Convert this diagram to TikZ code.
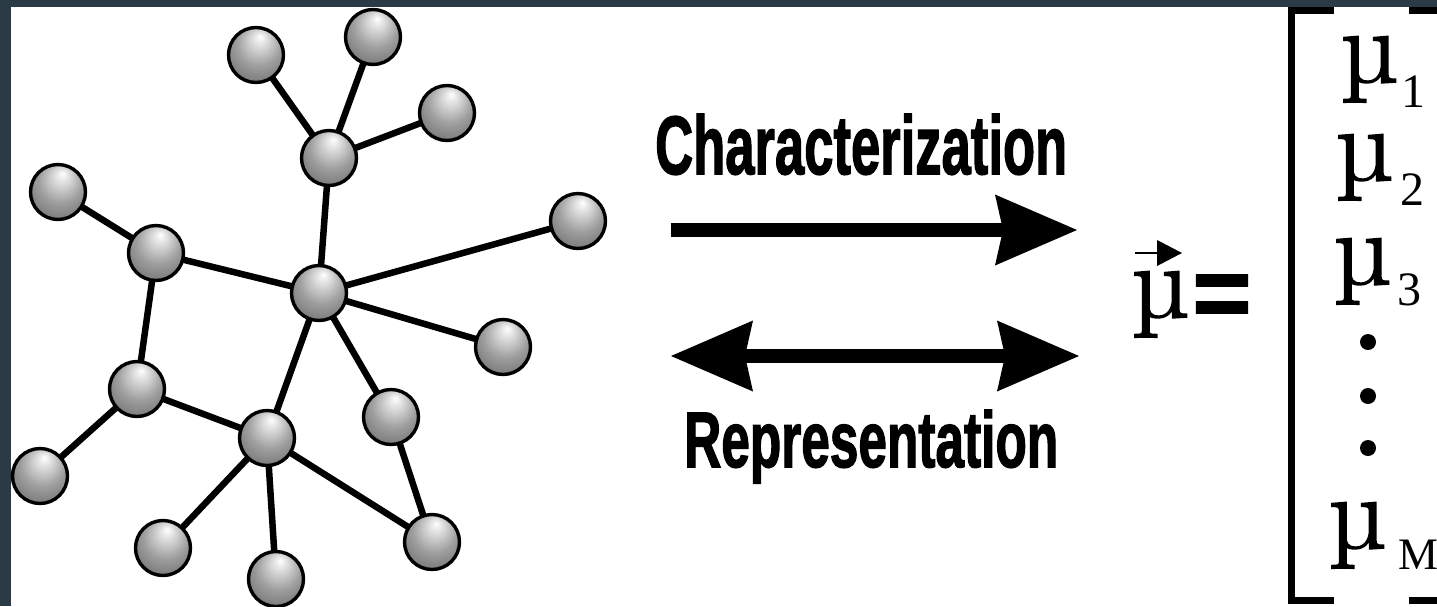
\documentclass[tikz,border=0pt]{standalone}
\usepackage{fontspec}
\usetikzlibrary{arrows.meta}
\newfontfamily\lblfont{Liberation Sans}[BoldFeatures={FakeBold=2}]
\newfontfamily\mufont{Liberation Serif}
\newfontfamily\lmmu{Latin Modern Roman}[FakeBold=1.6]
\definecolor{framecol}{RGB}{43,59,69}
\pgfdeclareradialshading{sphere}{\pgfpoint{4bp}{17bp}}{color(0bp)=(white); color(4bp)=(black!8); color(20bp)=(black!38); color(40bp)=(black!62); color(50bp)=(black!78)}
\pgfdeclarelayer{bg}
\pgfdeclarelayer{edgelayer}
\pgfsetlayers{bg,edgelayer,main}
\newcommand{\wmu}{\scalebox{1.1}[1]{µ}}
\tikzset{
  ball/.style={circle, draw=black, line width=3.4pt, minimum size=55pt, inner sep=0pt, shading=sphere},
  link/.style={line width=6.5pt},
  bigarrow/.style={line width=14pt, -{Stealth[length=82pt,width=71pt,inset=8pt,line width=0pt]}},
  botharrow/.style={line width=14pt, {Stealth[length=82pt,width=71pt,inset=8pt,line width=0pt]}-{Stealth[length=82pt,width=71pt,inset=8pt,line width=0pt]}},
  mubig/.style={anchor=base west, inner sep=0pt, font=\lmmu\fontsize{104}{104}\selectfont},
  musub/.style={anchor=base west, inner sep=0pt, font=\mufont\fontsize{48}{48}\selectfont},
  dotmark/.style={circle, fill=black, minimum size=16pt, inner sep=0pt},
  bracket/.style={line width=7pt},
  lbl/.style={anchor=base west, inner sep=0pt}
}
\begin{document}
\begin{tikzpicture}[x=1pt,y=-1pt]
\useasboundingbox (0,0) rectangle (1437,606);
\clip (0,0) rectangle (1437,606);
\begin{pgfonlayer}{bg}
  \fill[framecol] (0,0) rectangle (1437,606);
  \fill[white] (11,7) rectangle (1445,615);
\end{pgfonlayer}

% graph nodes
\node[ball] (A) at (256,55) {};
\node[ball] (B) at (373,37) {};
\node[ball] (C) at (447,113) {};
\node[ball] (D) at (329,158) {};
\node[ball] (E) at (58,192) {};
\node[ball] (F) at (156,253) {};
\node[ball] (G) at (319,293) {};
\node[ball] (H) at (578,221) {};
\node[ball] (I) at (503,347) {};
\node[ball] (J) at (137,389) {};
\node[ball] (K) at (267,438) {};
\node[ball] (L) at (391,417) {};
\node[ball] (M) at (40,476) {};
\node[ball] (N) at (163,548) {};
\node[ball] (O) at (276,579) {};
\node[ball] (P) at (432,542) {};

\begin{pgfonlayer}{edgelayer}
  \foreach \u/\v in {A/D,B/D,C/D,D/G,E/F,F/G,F/J,G/H,G/I,G/K,G/L,J/K,J/M,K/N,K/O,K/P,L/P}
    \draw[link] (\u.center) -- (\v.center);
\end{pgfonlayer}

% arrows and labels
\coordinate (a1s) at (671,230);
\coordinate (a1e) at (1077,230);
\coordinate (a2s) at (671,356);
\coordinate (a2e) at (1079,356);
\draw[bigarrow] (a1s) -- (a1e);
\draw[botharrow] (a2s) -- (a2e);
\node[lbl] (char) at (655,174) {\resizebox{412pt}{60pt}{\lblfont\bfseries Characterization}};
\node[lbl] (repr) at (684,467) {\resizebox{374pt}{57pt}{\lblfont\bfseries Representation}};

% vector
\node[mubig] (vmu) at (1131,317) {\wmu};
\coordinate (vas) at (1135,253);
\coordinate (vae) at (1158,253);
\draw[line width=2pt] (vas) -- (vae);
\fill (1157,240) -- (1182,253) -- (1157,266) -- cycle;
\node[anchor=base, inner sep=0pt, font=\lblfont\bfseries\fontsize{100}{100}\selectfont] (eq) at (1222,327) {=};

% bracket
\draw[bracket] (1334,10) -- (1291.5,10) -- (1291.5,600) -- (1334,600);
\draw[bracket] (1409,10) -- (1445,10) -- (1445,600) -- (1409,600);

\node[mubig] (m1) at (1340,82) {\wmu};
\node[musub] (s1) at (1401,107) {1};
\node[mubig] (m2) at (1335,180) {\wmu};
\node[musub] (s2) at (1400,205) {2};
\node[mubig] (m3) at (1333,284) {\wmu};
\node[musub] (s3) at (1397,305) {3};
\node[dotmark] (d1) at (1368,342) {};
\node[dotmark] (d2) at (1368,396) {};
\node[dotmark] (d3) at (1368,448) {};
\node[mubig] (mM) at (1328,548) {\wmu};
\node[musub, font=\mufont\fontsize{45}{45}\selectfont] (sM) at (1398,569) {M};
\end{tikzpicture}
\end{document}
